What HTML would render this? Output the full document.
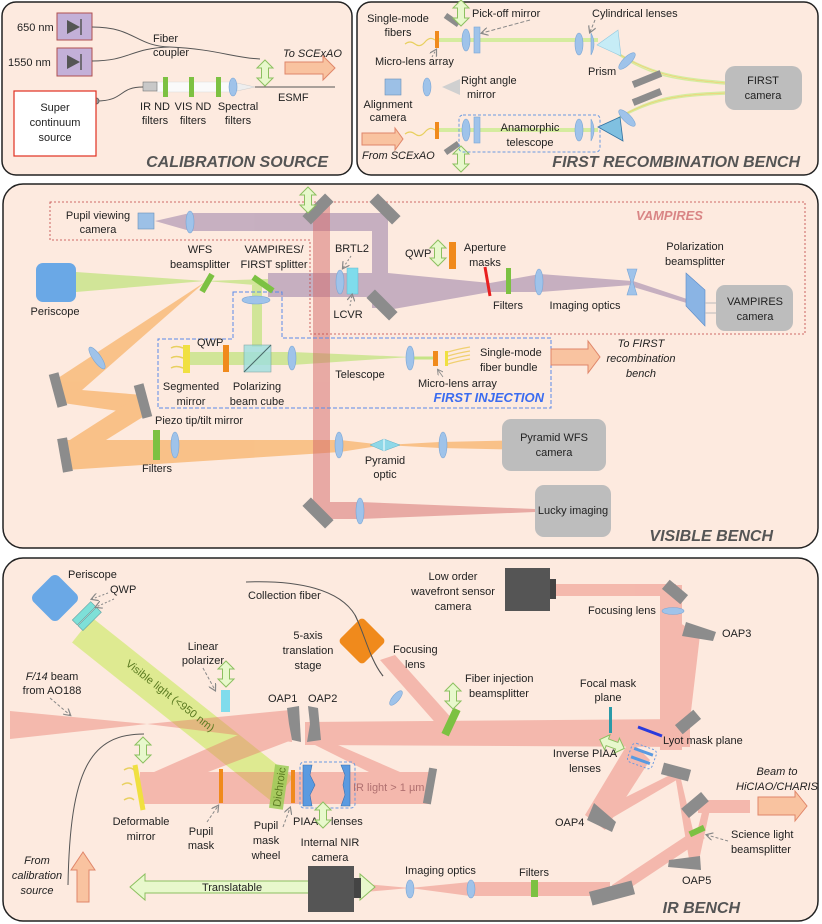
<!DOCTYPE html>
<html><head><meta charset="utf-8"><style>
html,body{margin:0;padding:0;background:#fff}
svg{display:block}
text{font-family:"Liberation Sans",sans-serif;font-size:11px;fill:#222}
.c{text-anchor:middle}
.i{font-style:italic}
.t{font-weight:bold;font-style:italic;font-size:16px;fill:#555;text-anchor:end}
.m{fill:#8c8c8c}
.l{fill:#9fc3ea;stroke:#7aa6d6;stroke-width:.6}
.g{fill:#7cc142}
.o{fill:#f08a1c}
</style></head><body>
<svg width="822" height="924" viewBox="0 0 822 924" xmlns="http://www.w3.org/2000/svg">
<defs>
<marker id="ah" markerWidth="8" markerHeight="8" refX="6" refY="4" orient="auto"><path d="M0,0 L7,4 L0,8" fill="none" stroke="#888" stroke-width="1.2"/></marker>
<g id="dbl"><polygon points="0,-13 8,-5 3.5,-5 3.5,5 8,5 0,13 -8,5 -3.5,5 -3.5,-5 -8,-5" fill="#e8f8cc" stroke="#8cc060" stroke-width="1"/></g>
<g id="dblh"><polygon points="-13,0 -5,-8 -5,-3.5 5,-3.5 5,-8 13,0 5,8 5,3.5 -5,3.5 -5,8" fill="#e8f8cc" stroke="#8cc060" stroke-width="1"/></g>
</defs>

<rect x="2" y="2" width="350" height="173" rx="14" fill="#fdeadf" stroke="#222" stroke-width="1.5"/>
<rect x="357" y="2" width="461" height="173" rx="14" fill="#fdeadf" stroke="#222" stroke-width="1.5"/>
<rect x="3" y="184" width="815" height="364" rx="20" fill="#fdeadf" stroke="#222" stroke-width="1.5"/>
<rect x="3" y="558" width="815" height="363" rx="20" fill="#fdeadf" stroke="#222" stroke-width="1.5"/>

<!-- ===== CALIBRATION SOURCE ===== -->
<rect x="57" y="13" width="35" height="27" fill="#c3b0d8" stroke="#b05050"/>
<rect x="57" y="48" width="35" height="28" fill="#c3b0d8" stroke="#b05050"/>
<polygon points="67,20 80,27 67,34" fill="#555"/><line x1="81" y1="19" x2="81" y2="35" stroke="#555" stroke-width="1.5"/>
<polygon points="67,55 80,62 67,69" fill="#555"/><line x1="81" y1="54" x2="81" y2="70" stroke="#555" stroke-width="1.5"/>
<text x="17" y="31">650 nm</text><text x="8" y="66">1550 nm</text>
<path d="M92,27 C135,27 135,46 170,47 C215,49 235,58 260,59" fill="none" stroke="#555" stroke-width="1"/>
<path d="M92,61 C130,61 130,48 170,47" fill="none" stroke="#555" stroke-width="1"/>
<text x="153" y="42">Fiber</text><text x="153" y="56">coupler</text>
<text x="283" y="57" class="i">To SCExAO</text>
<polygon points="285,62 323,62 323,56 335,68 323,80 323,74 285,74" fill="#f9c3a0" stroke="#e0866a"/>
<use href="#dbl" x="265" y="73"/>
<line x1="255" y1="87" x2="335" y2="87" stroke="#555" stroke-width="1"/>
<text x="278" y="101">ESMF</text>
<rect x="157" y="82" width="75" height="10" fill="#fafafa" stroke="#ddd" stroke-width=".5"/>
<polygon points="237,83 255,87 237,91" fill="#eee" stroke="#ccc" stroke-width=".5"/>
<rect x="143" y="82" width="14" height="9" fill="#c8c8c8" stroke="#777" stroke-width=".6"/>
<rect x="163" y="77" width="5" height="20" class="g"/><rect x="189" y="77" width="5" height="20" class="g"/><rect x="216" y="77" width="5" height="20" class="g"/>
<ellipse cx="233" cy="87" rx="4" ry="9" class="l"/>
<path d="M96,101 C125,101 118,87 143,87" fill="none" stroke="#555"/>
<circle cx="96" cy="101" r="3" fill="#999" stroke="#666"/>
<rect x="14" y="91" width="82" height="65" fill="#fff" stroke="#e03020" stroke-width="1.2"/>
<text x="55" y="111" class="c">Super</text><text x="55" y="126" class="c">continuum</text><text x="55" y="141" class="c">source</text>
<text x="155" y="110" class="c">IR ND</text><text x="155" y="124" class="c">filters</text>
<text x="193" y="110" class="c">VIS ND</text><text x="193" y="124" class="c">filters</text>
<text x="238" y="110" class="c">Spectral</text><text x="238" y="124" class="c">filters</text>
<text x="328" y="167" class="t">CALIBRATION SOURCE</text>

<!-- ===== FIRST RECOMBINATION ===== -->
<line x1="437" y1="40" x2="598" y2="40" stroke="#d5ec9f" stroke-width="4"/>
<line x1="437" y1="130" x2="598" y2="130" stroke="#d5ec9f" stroke-width="4"/>
<path d="M405,44 q5,-4 10,0 t10,-2 t10,-2" fill="none" stroke="#e8d060" stroke-width="1.2"/>
<path d="M405,134 q5,-4 10,0 t10,-2 t10,-2" fill="none" stroke="#e8d060" stroke-width="1.2"/>
<path d="M610,48 C650,75 680,78 725,82 M612,50 C650,78 680,80 725,84" fill="none" stroke="#d5ec9f" stroke-width="1.5"/>
<path d="M610,48 C650,76 680,79 725,83" fill="none" stroke="#f0d070" stroke-width=".8"/>
<path d="M610,124 C650,98 680,96 725,94 M612,122 C650,96 680,94 725,92" fill="none" stroke="#d5ec9f" stroke-width="1.5"/>
<path d="M610,123 C650,97 680,95 725,93" fill="none" stroke="#f0d070" stroke-width=".8"/>
<rect x="435" y="31" width="4" height="17" class="o"/><rect x="435" y="122" width="4" height="17" class="o"/>
<rect x="-8" y="-3" width="16" height="6" class="m" transform="translate(452,20) rotate(35)"/>
<rect x="-8" y="-3" width="16" height="6" class="m" transform="translate(452,148) rotate(-35)"/>
<use href="#dbl" x="461" y="13"/><use href="#dbl" x="461" y="159"/>
<ellipse cx="466" cy="40" rx="4" ry="11" class="l"/><rect x="474" y="27" width="6" height="26" class="l"/>
<ellipse cx="466" cy="130" rx="4" ry="11" class="l"/><rect x="474" y="117" width="6" height="26" class="l"/>
<ellipse cx="579" cy="44" rx="4" ry="11" class="l"/><path d="M591,33 q6,11 0,22 z" class="l"/>
<ellipse cx="579" cy="130" rx="4" ry="11" class="l"/><path d="M591,119 q6,11 0,22 z" class="l"/>
<polygon points="597,45 618,30 621,56" fill="#c6ecf6" stroke="#90c8e0" stroke-width=".6"/>
<polygon points="598,127 620,117 623,141" fill="#80c0e0" stroke="#3070a0" stroke-width=".8"/>
<ellipse cx="627" cy="61" rx="4" ry="11" class="l" transform="rotate(45 627 61)"/>
<ellipse cx="627" cy="118" rx="4" ry="11" class="l" transform="rotate(-45 627 118)"/>
<rect x="-15" y="-3.5" width="30" height="7" class="m" transform="translate(647,79) rotate(-22)"/>
<rect x="-15" y="-3.5" width="30" height="7" class="m" transform="translate(647,97) rotate(-22)"/>
<rect x="725" y="66" width="77" height="44" rx="10" fill="#bdbdbd"/>
<text x="763" y="84" class="c">FIRST</text><text x="763" y="99" class="c">camera</text>
<rect x="385" y="79" width="16" height="16" fill="#9cc0e6" stroke="#6b8fb8" stroke-width=".6"/>
<ellipse cx="427" cy="87" rx="4" ry="9" class="l"/>
<polygon points="442,87 460,79 460,95" fill="#d0d0d0"/>
<text x="461" y="84">Right angle</text><text x="467" y="98">mirror</text>
<text x="388" y="108" class="c">Alignment</text><text x="388" y="121" class="c">camera</text>
<text x="398" y="22" class="c">Single-mode</text><text x="398" y="36" class="c">fibers</text>
<text x="472" y="17">Pick-off mirror</text><text x="592" y="17">Cylindrical lenses</text>
<line x1="530" y1="20" x2="482" y2="33" stroke="#888" stroke-dasharray="4,2" marker-end="url(#ah)"/>
<line x1="595" y1="20" x2="590" y2="32" stroke="#888" stroke-dasharray="3,2" marker-end="url(#ah)"/>
<text x="375" y="65">Micro-lens array</text>
<line x1="432" y1="57" x2="436" y2="50" stroke="#888" stroke-dasharray="2,2" marker-end="url(#ah)"/>
<text x="588" y="75">Prism</text>
<rect x="459" y="115" width="141" height="37" rx="4" fill="none" stroke="#6a9ae0" stroke-dasharray="3,2"/>
<text x="530" y="131" class="c">Anamorphic</text><text x="530" y="146" class="c">telescope</text>
<polygon points="362,133 395,133 395,128 403,139 395,150 395,145 362,145" fill="#f9c3a0" stroke="#e0866a"/>
<text x="362" y="159" class="i">From SCExAO</text>
<text x="800" y="167" class="t">FIRST RECOMBINATION BENCH</text>

<!-- ===== VISIBLE BENCH ===== -->
<g fill="#f7a650" opacity=".6">
<polygon points="205,282 55,380 65,405"/>
<polygon points="57,388 143,395 146,415 63,403"/>
<polygon points="140,395 62,445 66,465 146,415"/>
<polygon points="66,440 340,440 384,445 340,452 66,470"/>
<polygon points="384,445 440,442 535,440 535,450 440,448"/>
</g>
<polygon points="76,272 205,281 76,292" fill="#c6e486" opacity=".8"/>
<polygon points="205,281 268,279 268,286" fill="#c6e486" opacity=".8"/>
<rect x="252" y="285" width="10" height="62" fill="#c6e486" opacity=".8"/>
<rect x="183" y="352" width="107" height="13" fill="#c6e486" opacity=".8"/>
<polygon points="292,352 410,357 292,365" fill="#c6e486" opacity=".8"/>
<line x1="410" y1="358" x2="435" y2="358" stroke="#c6e486" stroke-width="3"/>
<g fill="#9a7fa8" opacity=".55">
<polygon points="155,221 190,213 385,213 385,231 190,231"/>
<rect x="372" y="213" width="16" height="95"/>
<rect x="268" y="273" width="120" height="24"/>
<polygon points="388,273 490,283 540,274 540,292 490,292 388,310"/>
<polygon points="540,274 632,281 690,302 632,285 540,292"/>
<polygon points="630,280 690,300 690,304 630,286"/>
</g>
<g fill="#d46a6a" opacity=".5">
<rect x="313" y="205" width="17" height="310"/>
<rect x="320" y="502" width="40" height="17"/>
<polygon points="360,502 535,509 535,512 360,519"/>
</g>
<path d="M50,202 H805 V334 H310 V240 H50 Z" fill="none" stroke="#c04040" stroke-width=".8" stroke-dasharray="2,2"/>
<text x="636" y="220" class="i" style="font-weight:bold;font-size:13px;fill:#d98585">VAMPIRES</text>
<path d="M233,292 H282 V338 H551 V408 H158 V339 H233 Z" fill="none" stroke="#5a8ae8" stroke-dasharray="4,2"/>
<rect x="138" y="213" width="16" height="16" fill="#9cc0e6" stroke="#6b8fb8" stroke-width=".6"/>
<text x="98" y="219" class="c">Pupil viewing</text><text x="98" y="233" class="c">camera</text>
<ellipse cx="190" cy="222" rx="4" ry="11" class="l"/>
<rect x="-16" y="-6" width="32" height="12" class="m" transform="translate(318,209) rotate(-45)"/>
<rect x="-16" y="-6" width="32" height="12" class="m" transform="translate(385,209) rotate(45)"/>
<rect x="-16" y="-6" width="32" height="12" class="m" transform="translate(382,305) rotate(45)"/>
<rect x="-16" y="-6" width="32" height="12" class="m" transform="translate(318,513) rotate(45)"/>
<use href="#dbl" x="308" y="200"/>
<rect x="36" y="263" width="40" height="39" rx="7" fill="#6aa8e6"/>
<text x="55" y="315" class="c">Periscope</text>
<rect x="-3" y="-10" width="6" height="20" class="g" transform="translate(207,283) rotate(30)"/>
<rect x="-3" y="-12" width="6" height="24" class="g" transform="translate(263,284) rotate(-55)"/>
<text x="200" y="253" class="c">WFS</text><text x="200" y="268" class="c">beamsplitter</text>
<text x="274" y="253" class="c">VAMPIRES/</text><text x="274" y="268" class="c">FIRST splitter</text>
<ellipse cx="340" cy="282" rx="4" ry="12" class="l"/>
<rect x="347" y="268" width="11" height="26" fill="#7fdcec" stroke="#60b8d0" stroke-width=".5"/>
<text x="352" y="252" class="c">BRTL2</text><text x="348" y="318" class="c">LCVR</text>
<line x1="351" y1="256" x2="343" y2="268" stroke="#888" stroke-dasharray="2,2" marker-end="url(#ah)"/>
<line x1="350" y1="306" x2="352" y2="295" stroke="#888" stroke-dasharray="2,2" marker-end="url(#ah)"/>
<text x="405" y="257">QWP</text>
<use href="#dbl" x="438" y="253"/>
<rect x="449" y="242" width="7" height="27" class="o"/>
<text x="485" y="251" class="c">Aperture</text><text x="485" y="266" class="c">masks</text>
<line x1="485" y1="267" x2="490" y2="296" stroke="#e82020" stroke-width="3"/>
<rect x="506" y="268" width="5" height="26" class="g"/>
<text x="508" y="309" class="c">Filters</text>
<ellipse cx="539" cy="282" rx="4" ry="13" class="l"/>
<text x="585" y="309" class="c">Imaging optics</text>
<path d="M627,269 H637 L633,282 L637,295 H627 L631,282 Z" class="l"/>
<text x="695" y="250" class="c">Polarization</text><text x="695" y="265" class="c">beamsplitter</text>
<polygon points="686,273 705,290 705,326 686,306" fill="#8ab4e4" stroke="#5a8ac8" stroke-width=".6"/>
<line x1="705" y1="303" x2="716" y2="303" stroke="#bbb"/><line x1="705" y1="313" x2="716" y2="313" stroke="#bbb"/>
<rect x="716" y="285" width="77" height="46" rx="9" fill="#bdbdbd"/>
<text x="755" y="305" class="c">VAMPIRES</text><text x="755" y="320" class="c">camera</text>
<ellipse cx="256" cy="300" rx="14" ry="4" class="l"/>
<rect x="244" y="345" width="27" height="27" fill="#9ee0e0" opacity=".8" stroke="#6a9a9a" stroke-width=".6"/>
<line x1="244" y1="372" x2="271" y2="345" stroke="#4a6a6a"/>
<rect x="183" y="345" width="7" height="28" fill="#f0e040"/>
<path d="M171,348 q5,-3 12,0 M171,358 q5,-3 12,0 M171,368 q5,-3 12,0" fill="none" stroke="#e8d060" stroke-width="1.5"/>
<rect x="223" y="345" width="6" height="27" class="o"/>
<text x="197" y="346">QWP</text>
<ellipse cx="292" cy="358" rx="4" ry="12" class="l"/>
<ellipse cx="410" cy="358" rx="4" ry="12" class="l"/>
<rect x="433" y="351" width="5" height="15" class="o"/>
<rect x="445" y="351" width="3" height="15" fill="#f0e040"/>
<path d="M448,352 q10,-3 22,-5 M448,356 q10,-3 22,-5 M448,360 q10,-3 22,-5 M448,364 q10,-3 22,-5" fill="none" stroke="#f0d070" stroke-width="1.2"/>
<text x="191" y="390" class="c">Segmented</text><text x="191" y="405" class="c">mirror</text>
<text x="257" y="390" class="c">Polarizing</text><text x="257" y="405" class="c">beam cube</text>
<text x="360" y="378" class="c">Telescope</text>
<text x="480" y="356">Single-mode</text><text x="480" y="371">fiber bundle</text>
<text x="418" y="387">Micro-lens array</text>
<line x1="443" y1="377" x2="438" y2="370" stroke="#888" stroke-width=".8" marker-end="url(#ah)"/>
<text x="544" y="402" class="t" style="font-size:13px;fill:#3b6cf0">FIRST INJECTION</text>
<polygon points="551,349 588,349 588,341 600,357 588,373 588,365 551,365" fill="#f9c3a0" stroke="#e0866a"/>
<text x="641" y="347" class="c i">To FIRST</text><text x="641" y="362" class="c i">recombination</text><text x="641" y="377" class="c i">bench</text>
<ellipse cx="97" cy="358" rx="4" ry="13" class="l" transform="rotate(-35 97 358)"/>
<rect x="-5" y="-17" width="10" height="34" class="m" transform="translate(58,390) rotate(-15)"/>
<rect x="-5" y="-17" width="10" height="34" class="m" transform="translate(143,401) rotate(-15)"/>
<rect x="-5" y="-17" width="10" height="34" class="m" transform="translate(65,455) rotate(-10)"/>
<text x="155" y="424">Piezo tip/tilt mirror</text>
<rect x="153" y="430" width="7" height="30" class="g"/>
<ellipse cx="175" cy="445" rx="4" ry="13" class="l"/>
<text x="157" y="472" class="c">Filters</text>
<ellipse cx="339" cy="445" rx="4" ry="13" class="l"/>
<polygon points="370,445 384,439 400,445 384,451" fill="#8fd8e8" stroke="#60b0c8" stroke-width=".5"/>
<line x1="384" y1="439" x2="384" y2="451" stroke="#fff"/>
<text x="385" y="464" class="c">Pyramid</text><text x="385" y="478" class="c">optic</text>
<ellipse cx="443" cy="445" rx="4" ry="13" class="l"/>
<rect x="502" y="419" width="104" height="52" rx="9" fill="#bdbdbd"/>
<text x="554" y="441" class="c">Pyramid WFS</text><text x="554" y="456" class="c">camera</text>
<ellipse cx="360" cy="511" rx="4" ry="13" class="l"/>
<rect x="535" y="485" width="76" height="52" rx="9" fill="#bdbdbd"/>
<text x="573" y="514" class="c">Lucky imaging</text>
<text x="773" y="541" class="t">VISIBLE BENCH</text>

<!-- ===== IR BENCH ===== -->
<line x1="82" y1="630" x2="283" y2="790" stroke="#d4ea78" stroke-width="32" opacity=".75"/>
<g fill="#e8756a" opacity=".42">
<polygon points="10,711 147,724 10,739"/>
<polygon points="147,724 290,710 292,742"/>
<polygon points="290,712 145,776 145,796 292,740"/>
<polygon points="140,772 430,772 430,804 140,804"/>
<polygon points="305,722 690,719 690,747 305,745"/>
<polygon points="315,735 430,785 425,800 315,745"/>
<polygon points="440,728 380,660 395,655 455,722"/>
<rect x="660" y="585" width="22" height="165"/>
<rect x="556" y="584" width="120" height="12"/>
<polygon points="675,620 700,635 690,720 665,735"/>
<polygon points="630,740 650,760 605,830 585,815"/>
<polygon points="590,815 680,770 680,778 600,825"/>
<polygon points="675,775 690,865 700,860 680,775"/>
<polygon points="690,860 705,800 712,800 698,865"/>
<rect x="698" y="800" width="52" height="13"/>
<polygon points="695,830 612,885 612,900 705,838"/>
<rect x="470" y="882" width="140" height="14"/>
<polygon points="470,882 410,888 470,896"/>
<polygon points="410,888 365,884 365,892"/>
</g>
<g transform="translate(55,598) rotate(45)"><rect x="-18" y="-18" width="36" height="36" rx="6" fill="#6aa8e6"/></g>
<g transform="translate(78,620) rotate(45)"><rect x="-4" y="-22" width="7" height="26" fill="#7ee0d8" stroke="#60a0a0" stroke-width=".6"/><rect x="4" y="-22" width="7" height="26" fill="#7ee0d8" stroke="#60a0a0" stroke-width=".6"/></g>
<text x="68" y="578">Periscope</text><text x="110" y="593">QWP</text>
<line x1="108" y1="593" x2="92" y2="599" stroke="#888" stroke-dasharray="2,2" marker-end="url(#ah)"/>
<line x1="114" y1="599" x2="96" y2="607" stroke="#888" stroke-dasharray="2,2" marker-end="url(#ah)"/>
<text x="0" y="0" transform="translate(125,665) rotate(38)" style="fill:#5a7a20">Visible light (&lt;950 nm)</text>
<text x="52" y="680" class="c"><tspan class="i">F/14</tspan> beam</text><text x="52" y="694" class="c">from AO188</text>
<line x1="50" y1="698" x2="70" y2="715" stroke="#888" stroke-dasharray="3,2" marker-end="url(#ah)"/>
<text x="203" y="650" class="c">Linear</text><text x="203" y="664" class="c">polarizer</text>
<line x1="203" y1="668" x2="215" y2="690" stroke="#888" stroke-dasharray="3,2" marker-end="url(#ah)"/>
<use href="#dbl" x="226" y="674"/>
<rect x="221" y="690" width="9" height="22" fill="#80dcec"/>
<polygon points="287,708 299,706 301,742 292,740 289,724" class="m"/>
<polygon points="308,706 318,708 321,740 307,742 310,724" class="m"/>
<text x="268" y="702">OAP1</text><text x="308" y="702">OAP2</text>
<path d="M144,734 C90,734 70,770 68,885" fill="none" stroke="#555"/>
<use href="#dbl" x="143" y="750"/>
<line x1="135" y1="765" x2="143" y2="810" stroke="#f0e040" stroke-width="5"/>
<path d="M124,770 q6,-4 10,0 M122,785 q6,-4 10,0 M124,800 q6,-4 10,0" fill="none" stroke="#e8d060" stroke-width="1.5"/>
<text x="141" y="825" class="c">Deformable</text><text x="141" y="840" class="c">mirror</text>
<rect x="219" y="769" width="4" height="34" class="o"/>
<text x="201" y="835" class="c">Pupil</text><text x="201" y="849" class="c">mask</text>
<line x1="207" y1="822" x2="218" y2="806" stroke="#888" stroke-dasharray="3,2" marker-end="url(#ah)"/>
<g transform="translate(279,787) rotate(8)"><rect x="-7" y="-22" width="14" height="44" fill="#9ccc58" opacity=".85"/><text x="0" y="0" transform="rotate(-90)" class="c" dy="4" style="fill:#5a7a20">Dichroic</text></g>
<rect x="291" y="770" width="4" height="33" class="o"/>
<text x="266" y="829" class="c">Pupil</text><text x="266" y="844" class="c">mask</text><text x="266" y="859" class="c">wheel</text>
<line x1="283" y1="827" x2="290" y2="808" stroke="#888" stroke-dasharray="3,2" marker-end="url(#ah)"/>
<path d="M303,765 H312 L310,775 L315,785 L310,795 L312,806 H303 Z" fill="#5a9ae0" stroke="#3a70b0" stroke-width=".6"/>
<path d="M341,765 H350 V806 H341 L345,795 L343,785 L345,775 Z" fill="#5a9ae0" stroke="#3a70b0" stroke-width=".6"/>
<rect x="300" y="762" width="55" height="46" rx="4" fill="none" stroke="#6a9ae0" stroke-dasharray="3,2"/>
<text x="353" y="791" style="fill:#b07070">IR light &gt; 1 µm</text>
<text x="293" y="825">PIAA</text><text x="331" y="825">lenses</text>
<use href="#dbl" x="323" y="815"/>
<rect x="-4" y="-18" width="8" height="36" class="m" transform="translate(430,786) rotate(10)"/>
<text x="37" y="864" class="c i">From</text><text x="37" y="879" class="c i">calibration</text><text x="37" y="894" class="c i">source</text>
<polygon points="77,902 77,870 71,870 83,852 95,870 89,870 89,902" fill="#f9c3a0" stroke="#e0866a"/>
<text x="248" y="599">Collection fiber</text>
<path d="M246,582 C300,580 340,590 355,615 C365,635 370,660 383,676" fill="none" stroke="#555"/>
<g transform="translate(362,641) rotate(45)"><rect x="-17" y="-17" width="34" height="34" rx="4" fill="#f08a1c"/></g>
<path d="M355,615 C365,635 370,660 383,676" fill="none" stroke="#555"/>
<text x="308" y="639" class="c">5-axis</text><text x="308" y="654" class="c">translation</text><text x="308" y="669" class="c">stage</text>
<ellipse cx="396" cy="698" rx="3.5" ry="9" class="l" transform="rotate(40 396 698)"/>
<text x="393" y="653">Focusing</text><text x="405" y="668">lens</text>
<rect x="-4" y="-14" width="8" height="28" class="g" transform="translate(451,722) rotate(25)"/>
<use href="#dbl" x="453" y="696"/>
<text x="465" y="682">Fiber injection</text><text x="469" y="697">beamsplitter</text>
<rect x="609" y="707" width="3" height="26" fill="#2a9aa8"/>
<text x="608" y="687" class="c">Focal mask</text><text x="608" y="701" class="c">plane</text>
<rect x="505" y="568" width="45" height="43" fill="#555"/><rect x="550" y="579" width="6" height="20" fill="#444"/>
<text x="453" y="580" class="c">Low order</text><text x="453" y="595" class="c">wavefront sensor</text><text x="453" y="610" class="c">camera</text>
<rect x="-12" y="-6" width="24" height="12" class="m" transform="translate(675,592) rotate(40)"/>
<ellipse cx="673" cy="611" rx="11" ry="3.5" class="l"/>
<text x="588" y="614">Focusing lens</text>
<polygon points="686,622 716,632 713,641 682,636" class="m"/>
<text x="722" y="637">OAP3</text>
<rect x="-12" y="-6" width="24" height="12" class="m" transform="translate(688,722) rotate(-40)"/>
<line x1="638" y1="727" x2="662" y2="736" stroke="#2a3adc" stroke-width="3"/>
<text x="663" y="744">Lyot mask plane</text>
<g transform="translate(642,756) rotate(20)"><rect x="-13" y="-10" width="26" height="20" rx="4" fill="none" stroke="#6a9ae0" stroke-dasharray="2,2"/><rect x="-10" y="-6" width="20" height="3" fill="#5a9ae0"/><rect x="-10" y="3" width="20" height="3" fill="#5a9ae0"/></g>
<use href="#dblh" x="612" y="744" transform="rotate(20 612 744)"/>
<text x="585" y="757" class="c">Inverse PIAA</text><text x="585" y="772" class="c">lenses</text>
<polygon points="594,803 616,822 612,832 587,820" class="m"/>
<text x="555" y="826">OAP4</text>
<rect x="-14" y="-6" width="28" height="12" class="m" transform="translate(676,772) rotate(15)"/>
<rect x="-13" y="-6" width="26" height="12" class="m" transform="translate(695,805) rotate(-40)"/>
<polygon points="669,860 700,856 701,870 668,867" class="m"/>
<text x="682" y="884">OAP5</text>
<rect x="-3" y="-8" width="6" height="16" class="g" transform="translate(697,831) rotate(65)"/>
<text x="731" y="838">Science light</text><text x="731" y="853">beamsplitter</text>
<line x1="728" y1="841" x2="707" y2="835" stroke="#888" stroke-dasharray="3,2" marker-end="url(#ah)"/>
<polygon points="758,797 795,797 795,791 807,806 795,821 795,815 758,815" fill="#f9c3a0" stroke="#e0866a"/>
<text x="777" y="775" class="c i">Beam to</text><text x="777" y="790" class="c i">HiCIAO/CHARIS</text>
<rect x="-22" y="-7" width="44" height="14" class="m" transform="translate(612,893) rotate(-15)"/>
<rect x="531" y="880" width="7" height="17" class="g"/>
<text x="534" y="876" class="c">Filters</text>
<ellipse cx="471" cy="889" rx="4" ry="9" class="l"/>
<ellipse cx="410" cy="889" rx="4" ry="9" class="l"/>
<text x="405" y="874">Imaging optics</text>
<polygon points="130,887 145,874 145,881 360,881 360,874 375,887 360,900 360,893 145,893 145,900" fill="#e8f8cc" stroke="#8cc060"/>
<text x="232" y="891" class="c">Translatable</text>
<rect x="308" y="866" width="46" height="46" fill="#555"/><rect x="354" y="878" width="7" height="20" fill="#444"/>
<text x="330" y="846" class="c">Internal NIR</text><text x="330" y="861" class="c">camera</text>
<text x="740" y="913" class="t">IR BENCH</text>
</svg>
</body></html>
